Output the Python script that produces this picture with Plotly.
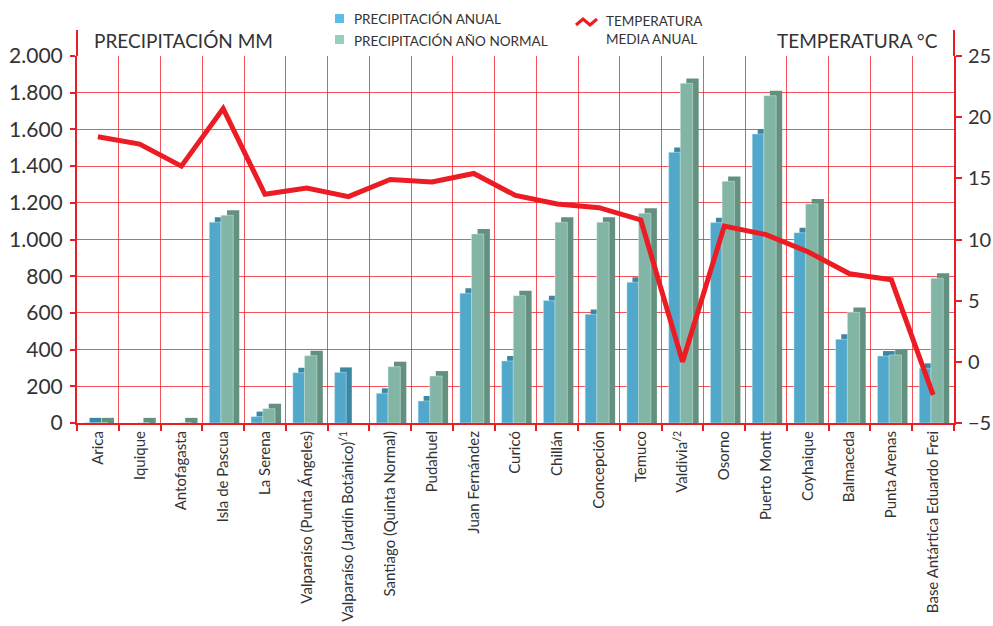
import plotly.graph_objects as go

# Data
stations = [
    "Arica", "Iquique", "Antofagasta", "Isla de Pascua", "La Serena",
    "Valparaíso (Punta Ángeles)", "Valparaíso (Jardín Botánico)<sup>/1</sup>",
    "Santiago (Quinta Normal)", "Pudahuel", "Juan Fernández", "Curicó",
    "Chillán", "Concepción", "Temuco", "Valdivia<sup>/2</sup>", "Osorno",
    "Puerto Montt", "Coyhaique", "Balmaceda", "Punta Arenas",
    "Base Antártica Eduardo Frei",
]
precip_annual = [1, None, None, 1094, 35, 274, 276, 162, 120, 707, 338,
                 667, 592, 767, 1475, 1092, 1575, 1037, 456, 365, 298]
precip_normal = [1, 1, 1, 1132, 78, 367, None, 307, 256, 1030, 694,
                 1094, 1094, 1143, 1851, 1317, 1784, 1194, 603, 371, 789]
temp_mean = [18.4, 17.8, 16.0, 20.7, 13.7, 14.2, 13.5, 14.9, 14.7, 15.4, 13.6,
             12.9, 12.6, 11.6, 0.0, 11.1, 10.4, 9.0, 7.2, 6.7, -2.7]

x_idx = list(range(len(stations)))

RED = "#ec1c24"
GRID = "rgba(236,28,36,0.75)"
TXT = "#333333"
FONT = "Lato"

# plot area in pixels (figure is 993 x 626)
L, R, T, B = 77, 954, 56, 423


def px(x):
    return (x - L) / (R - L)


def py(y):
    return (B - y) / (B - T)


DEPTH = 27  # fake 3D depth in mm units

fig = go.Figure()

# blue bars: side/top face then front
fig.add_trace(go.Bar(
    x=x_idx, y=[None if v is None else v + DEPTH for v in precip_annual],
    offset=-0.2, width=0.28, marker=dict(color="#3a87a3", line=dict(width=0)),
    hoverinfo="skip", showlegend=False,
))
fig.add_trace(go.Bar(
    x=x_idx, y=precip_annual, offset=-0.332, width=0.28,
    marker=dict(color="#52a8cb", line=dict(color="rgba(200,235,245,0.8)", width=0.6)),
    name="PRECIPITACIÓN ANUAL", showlegend=False,
))
# green bars: side/top face then front
fig.add_trace(go.Bar(
    x=x_idx, y=[None if v is None else v + DEPTH for v in precip_normal],
    offset=0.091, width=0.295, marker=dict(color="#64917f", line=dict(width=0)),
    hoverinfo="skip", showlegend=False,
))
fig.add_trace(go.Bar(
    x=x_idx, y=precip_normal, offset=-0.053, width=0.295,
    marker=dict(color="#82b5a6", line=dict(color="rgba(215,240,232,0.8)", width=0.6)),
    name="PRECIPITACIÓN AÑO NORMAL", showlegend=False,
))

# temperature line
fig.add_trace(go.Scatter(
    x=x_idx, y=temp_mean, yaxis="y2", mode="lines",
    line=dict(color=RED, width=5),
    name="TEMPERATURA MEDIA ANUAL", showlegend=False,
))

fig.update_layout(
    width=993,
    height=626,
    margin=dict(l=L, r=993 - R, t=T, b=626 - B, autoexpand=False),
    barmode="overlay",
    plot_bgcolor="white",
    paper_bgcolor="white",
    separators=",.",
    showlegend=False,
    font=dict(family=FONT, color=TXT),
    xaxis=dict(
        range=[-0.5, len(stations) - 0.5],
        tickmode="array", tickvals=x_idx, ticktext=stations,
        tickangle=-90, tickfont=dict(size=15, color=TXT),
        ticks="", showgrid=False, zeroline=False,
        showline=True, linecolor=RED, linewidth=2,
        automargin=False,
        minor=dict(
            tickvals=[i - 0.5 for i in range(len(stations) + 1)],
            ticks="outside", ticklen=6, tickcolor=RED, tickwidth=1.5,
            showgrid=True, gridcolor=GRID, gridwidth=1.3,
        ),
    ),
    yaxis=dict(
        range=[0, 2000], dtick=200, tickformat=",d",
        tickfont=dict(size=21, color=TXT), ticklabelstandoff=3,
        ticks="outside", ticklen=5, tickcolor=RED, tickwidth=1.5,
        showgrid=True, gridcolor=GRID, gridwidth=1.3,
        zeroline=False, showline=True, linecolor=RED, linewidth=2,
        automargin=False,
    ),
    yaxis2=dict(
        range=[-5, 25], dtick=5, overlaying="y", side="right",
        tickfont=dict(size=20, color=TXT), ticklabelstandoff=2,
        ticks="outside", ticklen=6, tickcolor=RED, tickwidth=1.5,
        showgrid=False, zeroline=False,
        showline=True, linecolor=RED, linewidth=2,
        automargin=False,
    ),
)

# axis lines extend above the plot area
for xp in (0, 1):
    fig.add_shape(type="line", xref="paper", yref="paper",
                  x0=xp, x1=xp, y0=1, y1=py(30),
                  line=dict(color=RED, width=2))

# axis titles
fig.add_annotation(text="PRECIPITACIÓN MM", xref="paper", yref="paper",
                   x=px(92), y=py(40), xanchor="left", yanchor="middle",
                   showarrow=False, font=dict(size=19, color=TXT))
fig.add_annotation(text="TEMPERATURA °C", xref="paper", yref="paper",
                   x=px(940), y=py(40), xanchor="right", yanchor="middle",
                   showarrow=False, font=dict(size=19, color=TXT))

# custom legend
fig.add_shape(type="rect", xref="paper", yref="paper",
              x0=px(335), x1=px(344), y0=py(14), y1=py(23),
              fillcolor="#5bbde8", line=dict(width=0))
fig.add_shape(type="rect", xref="paper", yref="paper",
              x0=px(335), x1=px(344), y0=py(35), y1=py(44),
              fillcolor="#95d1c0", line=dict(width=0))
fig.add_annotation(text="PRECIPITACIÓN ANUAL", xref="paper", yref="paper",
                   x=px(352), y=py(19), xanchor="left", yanchor="middle",
                   showarrow=False, font=dict(size=13.5, color=TXT))
fig.add_annotation(text="PRECIPITACIÓN AÑO NORMAL", xref="paper", yref="paper",
                   x=px(352), y=py(41), xanchor="left", yanchor="middle",
                   showarrow=False, font=dict(size=13.5, color=TXT))
fig.add_shape(type="path", xref="paper", yref="paper",
              path="M {} {} L {} {} L {} {} L {} {}".format(
                  px(576), py(25), px(583), py(19), px(590), py(25), px(597), py(19)),
              line=dict(color=RED, width=3))
fig.add_annotation(text="TEMPERATURA<br>MEDIA ANUAL", xref="paper", yref="paper",
                   x=px(604), y=py(30), xanchor="left", yanchor="middle", align="left",
                   showarrow=False, font=dict(size=13.5, color=TXT))

# drop the default page margin so the figure sits at the window's corner
fig.write_html("out.html", config={"displayModeBar": False},
               post_script="document.body.style.margin='0';")
